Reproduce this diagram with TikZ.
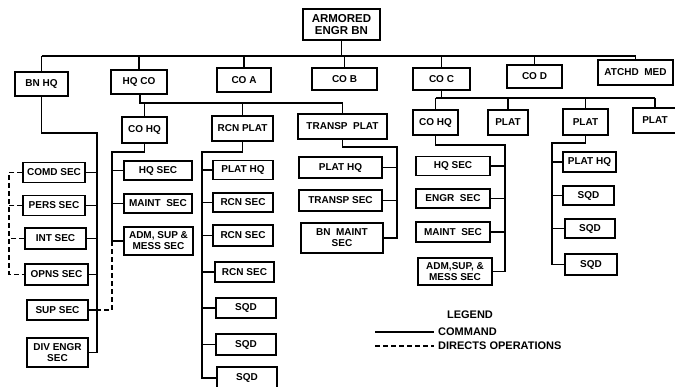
\documentclass[tikz,border=0pt]{standalone}
\usepackage{fontspec}
\setmainfont{Liberation Sans}
\begin{document}
\begin{tikzpicture}[x=1pt,y=-1pt,
  box/.style={draw,line width=1.5pt,inner sep=0pt,align=center,font=\bfseries\fontsize{10}{11}\selectfont},
  ln/.style={line width=1.5pt},
  dl/.style={line width=1.5pt,dash pattern=on 5pt off 3pt},
  lbl/.style={font=\bfseries\fontsize{11}{12}\selectfont,inner sep=0pt}]
\clip (0,0) rectangle (675,386);
\useasboundingbox (0,0) rectangle (675,386);
% top
\node[box,minimum width=77pt,minimum height=31pt,font=\bfseries\fontsize{11.5}{12.5}\selectfont] (top) at (341.5,24.5) {ARMORED\\ENGR BN};
% row 1
\node[box,minimum width=53pt,minimum height=24pt] (bnhq) at (41.5,84) {BN HQ};
\node[box,minimum width=56pt,minimum height=24pt] (hqco) at (139,82) {HQ CO};
\node[box,minimum width=54pt,minimum height=24pt] (coa) at (244,80) {CO A};
\node[box,minimum width=65pt,minimum height=22pt] (cob) at (344.5,79) {CO B};
\node[box,minimum width=57pt,minimum height=22pt] (coc) at (441.5,79) {CO C};
\node[box,minimum width=55pt,minimum height=23pt] (cod) at (534.5,76.5) {CO D};
\node[box,minimum width=75pt,minimum height=25pt] (atchd) at (635.5,72.5) {ATCHD\ \ MED};
\coordinate (busL) at (41.5,56);
\coordinate (busR) at (635.5,56);
\draw[ln] (busL) -- (busR);
\draw[ln] (top.south) -- (top.south |- busL);
\foreach \n in {bnhq,hqco,coa,cob,coc,cod,atchd} \draw[ln] (\n.north) -- (\n.north |- busL);
% row 2
\node[box,minimum width=45pt,minimum height=26pt] (cohqa) at (144.5,130) {CO HQ};
\node[box,minimum width=61pt,minimum height=25pt] (rcn) at (242.5,128.5) {RCN PLAT};
\node[box,minimum width=89pt,minimum height=25pt] (transp) at (342.5,126.5) {TRANSP\ \ PLAT};
\node[box,minimum width=45pt,minimum height=25pt] (cohqb) at (435.5,122.5) {CO HQ};
\node[box,minimum width=40pt,minimum height=25pt] (plata) at (508,122.5) {PLAT};
\node[box,minimum width=45pt,minimum height=26pt] (platb) at (585.5,122) {PLAT};
\node[box,minimum width=44pt,minimum height=25pt] (platc) at (655,120.5) {PLAT};
% HQ CO sub bus
\coordinate (hbus) at (140,103);
\draw[ln] (hqco.south -| hbus) -- (hbus) -- (hbus -| transp.north) -- (transp.north);
\draw[ln] (cohqa.north) -- (cohqa.north |- hbus);
\draw[ln] (rcn.north) -- (rcn.north |- hbus);
% CO C sub bus
\coordinate (cbus) at (441.5,98);
\draw[ln] (coc.south) -- (cbus);
\draw[ln] (cohqb.north |- cbus) -- (platc.north |- cbus);
\foreach \n in {cohqb,plata,platb,platc} \draw[ln] (\n.north) -- (\n.north |- cbus);
% BN HQ children
\node[box,minimum width=62pt,minimum height=20pt] (comd) at (54,172.5) {COMD SEC};
\node[box,minimum width=62pt,minimum height=20pt] (pers) at (54,205.5) {PERS SEC};
\node[box,minimum width=61pt,minimum height=21pt] (int) at (55.5,238.5) {INT SEC};
\node[box,minimum width=63pt,minimum height=21pt] (opns) at (56.5,274.5) {OPNS SEC};
\node[box,minimum width=61pt,minimum height=20pt] (sup) at (57.5,310) {SUP SEC};
\node[box,minimum width=61pt,minimum height=29pt] (div) at (57.5,352.5) {DIV ENGR\\SEC};
\coordinate (bA) at (97,133);
\draw[ln] (bnhq.south) -- (bnhq.south |- bA) -- (bA) -- (bA |- div.east) -- (div.east);
\foreach \n in {comd,pers,int,opns,sup} \draw[ln] (\n.east) -- (\n.east -| bA);
\coordinate (dL) at (9,172.5);
\draw[dl] (comd.west) -- (comd.west -| dL) -- (opns.west -| dL) -- (opns.west);
\draw[dl] (pers.west) -- (pers.west -| dL);
\draw[dl] (int.west) -- (int.west -| dL);
% CO HQ (HQ CO) children
\node[box,minimum width=68pt,minimum height=19pt] (hqseca) at (158,170.5) {HQ SEC};
\node[box,minimum width=68pt,minimum height=19pt] (mainta) at (158,203.5) {MAINT\ \ SEC};
\node[box,minimum width=69pt,minimum height=28pt] (adma) at (158.5,241) {ADM, SUP \&\\MESS SEC};
\coordinate (cT) at (112,152);
\draw[ln] (cohqa.south) -- (cohqa.south |- cT) -- (cT) -- (cT |- adma.west) -- (adma.west);
\foreach \n in {hqseca,mainta} \draw[ln] (\n.west) -- (\n.west -| cT);
\draw[dl] (cT |- adma.west) -- (cT |- sup.east) -- (sup.east -| bA);
% RCN PLAT children
\node[box,minimum width=60pt,minimum height=19pt] (phqa) at (243,170) {PLAT HQ};
\node[box,minimum width=60pt,minimum height=19pt] (rsa) at (243,202.5) {RCN SEC};
\node[box,minimum width=60pt,minimum height=21pt] (rsb) at (243,235.5) {RCN SEC};
\node[box,minimum width=59pt,minimum height=20pt] (rsc) at (244.5,272) {RCN SEC};
\node[box,minimum width=60pt,minimum height=20pt] (sqa) at (246,308) {SQD};
\node[box,minimum width=60pt,minimum height=21pt] (sqb) at (246,344.5) {SQD};
\node[box,minimum width=60pt,minimum height=22pt] (sqc) at (247,378) {SQD};
\coordinate (rA) at (202,152);
\draw[ln] (rcn.south) -- (rcn.south |- rA) -- (rA) -- (rA |- sqc.west) -- (sqc.west);
\foreach \n in {phqa,rsa,rsb,rsc,sqa,sqb} \draw[ln] (\n.west) -- (\n.west -| rA);
% TRANSP PLAT children
\node[box,minimum width=83pt,minimum height=21pt] (phqb) at (340.5,167.5) {PLAT HQ};
\node[box,minimum width=83pt,minimum height=21pt] (tsec) at (340.5,200.5) {TRANSP SEC};
\node[box,minimum width=82pt,minimum height=30pt] (bnm) at (342,238) {BN\ \ MAINT\\SEC};
\coordinate (tA) at (397,147);
\draw[ln] (transp.south) -- (transp.south |- tA) -- (tA) -- (tA |- bnm.east) -- (bnm.east);
\foreach \n in {phqb,tsec} \draw[ln] (\n.east) -- (\n.east -| tA);
% CO HQ (CO C) children
\node[box,minimum width=74pt,minimum height=19pt] (hqsecb) at (453,166) {HQ SEC};
\node[box,minimum width=74pt,minimum height=19pt] (engr) at (453,198.5) {ENGR\ \ SEC};
\node[box,minimum width=74pt,minimum height=20pt] (maintb) at (453,232) {MAINT\ \ SEC};
\node[box,minimum width=74pt,minimum height=27pt] (admb) at (455,271.5) {ADM,SUP, \&\\MESS SEC};
\coordinate (kA) at (505,145);
\draw[ln] (cohqb.south) -- (cohqb.south |- kA) -- (kA) -- (kA |- admb.east) -- (admb.east);
\foreach \n in {hqsecb,engr,maintb} \draw[ln] (\n.east) -- (\n.east -| kA);
% PLAT children
\node[box,minimum width=53pt,minimum height=20pt] (phqc) at (589.5,162) {PLAT HQ};
\node[box,minimum width=51pt,minimum height=19pt] (sqd) at (588.5,195.5) {SQD};
\node[box,minimum width=50pt,minimum height=19pt] (sqe) at (590,228.5) {SQD};
\node[box,minimum width=52pt,minimum height=21pt] (sqf) at (591,264.5) {SQD};
\coordinate (pA) at (552,143);
\draw[ln] (platb.south) -- (platb.south |- pA) -- (pA) -- (pA |- sqf.west) -- (sqf.west);
\foreach \n in {phqc,sqd,sqe} \draw[ln] (\n.west) -- (\n.west -| pA);
% legend
\node[lbl] (leg) at (470,315) {LEGEND};
\node[lbl,anchor=west] (cmd) at (438,332) {COMMAND};
\node[lbl,anchor=west] (dop) at (438,346) {DIRECTS OPERATIONS};
\coordinate (lc) at (375,332);
\coordinate (ld) at (375,346);
\draw[ln] (lc) -- ([xshift=-4pt]cmd.west);
\draw[dl] (ld) -- ([xshift=-4pt]dop.west);
\end{tikzpicture}
\end{document}
